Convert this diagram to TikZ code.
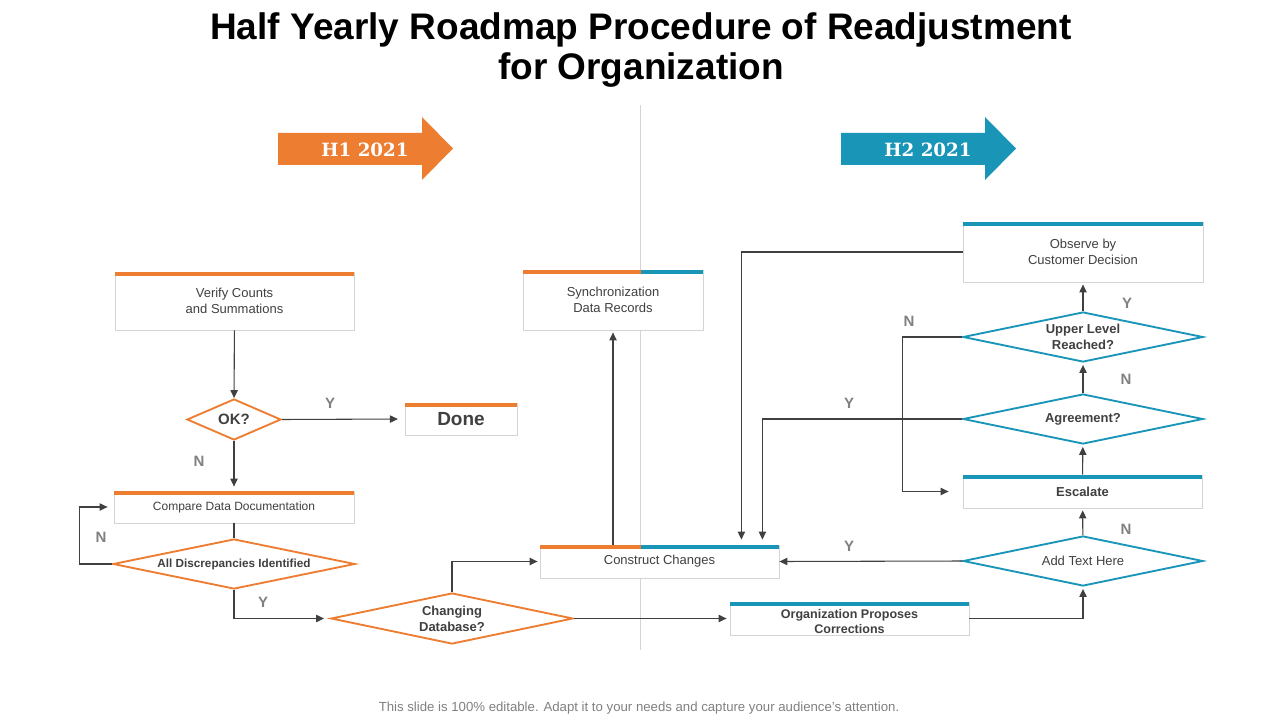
\documentclass[tikz,border=0pt]{standalone}
\usepackage{fontspec}
\setmainfont{Liberation Sans}
\newfontfamily\yearfont{DejaVu Serif}
\usetikzlibrary{shapes.geometric,arrows.meta,calc}

\definecolor{hone}{HTML}{ED7D31}
\definecolor{htwo}{HTML}{1995B7}
\definecolor{ink}{HTML}{404040}
\definecolor{frame}{HTML}{D4D4D4}
\definecolor{yncol}{HTML}{808080}

\tikzset{
  stepbox/.style={draw=frame, fill=white, line width=0.6pt, text=ink, align=center,
    inner sep=0pt, font=\fontsize{9.75pt}{12pt}\selectfont},
  decision/.style={diamond, draw, line width=1.4pt, fill=white, text=ink, align=center,
    inner sep=0pt, aspect=4.8, font=\bfseries\fontsize{9.75pt}{12pt}\selectfont},
  conn/.style={draw=ink, line width=0.8pt, -{Triangle[length=6pt,width=5.5pt]}},
  yn/.style={text=yncol, font=\bfseries\fontsize{11.25pt}{13pt}\selectfont},
}

\begin{document}
\begin{tikzpicture}[x=0.75pt, y=-0.75pt]
    % Page frame
    \useasboundingbox (0,0) rectangle (1280,720);

    % Title and footer
    \node (title) at (641,50.5) [align=center, text=black,
        font=\bfseries\fontsize{27.75pt}{30pt}\selectfont]
        {Half Yearly Roadmap Procedure of Readjustment\\for Organization};
    \node (footer) at (639,708) [text=yncol, font=\fontsize{9.9pt}{11pt}\selectfont]
        {This slide is 100\% editable. Adapt it to your needs and capture your audience's attention.};

    % Divider between the two halves
    \coordinate (mid) at (640.5,0);
    \draw[frame, line width=0.6pt] (640.5,105) -- (640.5,650);

    % Half year arrows
    \fill[hone] (278,133) -- (422,133) -- (422,117) -- (453,148.5) -- (422,180) -- (422,165) -- (278,165) -- cycle;
    \node (hfirst) at (365,150) [text=white, font=\yearfont\bfseries\fontsize{13.7pt}{15pt}\selectfont] {H1 2021};
    \fill[htwo] (841,133) -- (985,133) -- (985,117) -- (1016,148.5) -- (985,180) -- (985,165) -- (841,165) -- cycle;
    \node (hsecond) at (928,150) [text=white, font=\yearfont\bfseries\fontsize{13.7pt}{15pt}\selectfont] {H2 2021};

    % First half steps
    \node[stepbox, minimum width=179.25pt, minimum height=43.5pt] (verify) at (234.5,301) {Verify Counts\\and Summations};
    \node[decision, draw=hone, aspect=2.3, minimum width=70.5pt, minimum height=30.75pt,
        font=\bfseries\fontsize{11.25pt}{13pt}\selectfont] (ok) at (234,419.5) {OK?};
    \node[stepbox, minimum width=84pt, minimum height=24pt,
        font=\bfseries\fontsize{14.25pt}{16pt}\selectfont] (done) at (461,419) {Done};
    \node[stepbox, minimum width=180pt, minimum height=24pt,
        font=\fontsize{9pt}{11pt}\selectfont] (compare) at (234,507) {Compare Data Documentation};
    \node[decision, draw=hone, minimum width=181.5pt, minimum height=37.5pt,
        font=\bfseries\fontsize{8.8pt}{10pt}\selectfont] (alldisc) at (234,564) {All Discrepancies Identified};
    \node[decision, draw=hone, minimum width=181.5pt, minimum height=38.25pt] (changing) at (452,618.5) {Changing\\Database?};

    % Shared steps
    \node[stepbox, minimum width=135pt, minimum height=45pt] (sync) at (613,300) {Synchronization\\Data Records};
    \node[stepbox, minimum width=179.25pt, minimum height=24.75pt] (construct) at (659.5,561.5) {Construct Changes};

    % Second half steps
    \node[stepbox, minimum width=179.25pt, minimum height=24.75pt] (org) at (849.5,618.5) {};
    \node[text=ink, align=center, inner sep=0pt, font=\bfseries\fontsize{9.4pt}{11.25pt}\selectfont]
        (orgtext) at (849.5,622) {Organization Proposes\\Corrections};
    \node[stepbox, minimum width=180pt, minimum height=45pt] (observe) at (1083,252) {Observe by\\Customer Decision};
    \node[decision, draw=htwo, minimum width=180pt, minimum height=37.5pt] (upper) at (1083,337) {Upper Level\\Reached?};
    \node[decision, draw=htwo, minimum width=180pt, minimum height=37.5pt] (agree) at (1083,419) {Agreement?};
    \node[stepbox, minimum width=179.25pt, minimum height=24.75pt,
        font=\bfseries\fontsize{9.75pt}{12pt}\selectfont] (escalate) at (1082.5,491.5) {Escalate};
    \node[decision, draw=htwo, minimum width=180pt, minimum height=37.5pt,
        font=\fontsize{9.75pt}{12pt}\selectfont] (addtext) at (1083,561) {Add Text Here};

    % Coloured top bars
    \fill[hone] (verify.north west) rectangle ($(verify.north east)+(0,4)$);
    \fill[hone] (done.north west) rectangle ($(done.north east)+(0,4)$);
    \fill[hone] (compare.north west) rectangle ($(compare.north east)+(0,4)$);
    \fill[hone] (sync.north west) rectangle ($(sync.north -| mid)+(0,4)$);
    \fill[htwo] (sync.north -| mid) rectangle ($(sync.north east)+(0,4)$);
    \fill[hone] (construct.north west) rectangle ($(construct.north -| mid)+(0,4)$);
    \fill[htwo] (construct.north -| mid) rectangle ($(construct.north east)+(0,4)$);
    \fill[htwo] (org.north west) rectangle ($(org.north east)+(0,4)$);
    \fill[htwo] (observe.north west) rectangle ($(observe.north east)+(0,4)$);
    \fill[htwo] (escalate.north west) rectangle ($(escalate.north east)+(0,4)$);

    % Connectors, first half
    \draw[conn] (verify) -- (ok);
    \draw[conn, shorten >=5pt] (ok.east) -- (done.west);
    \draw[conn, shorten >=3pt] (ok) -- (compare);
    \draw[draw=ink, line width=0.8pt] (compare) -- (alldisc);
    \draw[conn, shorten >=4.5pt] (alldisc.west) -- ++(-33,0) |- (compare.west);
    \draw[conn, shorten >=4.5pt] (alldisc.south) |- (changing.west);
    \draw[conn, shorten >=1.5pt] (changing.north) |- (construct.west);
    \draw[conn, shorten >=2.25pt] (changing.east) -- (org.west);
    \draw[conn, shorten >=1.5pt] (construct.north -| sync.south) -- (sync.south);

    % Connectors, second half
    \draw[conn, shorten >=3.75pt] (observe.west) -| ($(construct.north east)+(-38,0)$);
    \draw[conn, shorten >=3.75pt] (agree.west) -| ($(construct.north east)+(-17,0)$);
    \draw[conn] (addtext.west) -- (construct.east);
    \draw[conn, shorten >=1.5pt] (org.east) -| (addtext.south);
    \draw[conn, shorten >=1.5pt] (addtext) -- (escalate);
    \draw[conn, shorten >=1.5pt] (escalate) -- (agree);
    \draw[conn, shorten >=1.5pt] (agree) -- (upper);
    \draw[conn, shorten >=1.5pt] (upper) -- (observe);
    \draw[conn, shorten >=10.5pt] (upper.west) -- ++(-60,0) |- (escalate.west);

    % Yes / no labels
    \node[yn] (yok) at (330,403) {Y};
    \node[yn] (nok) at (199,461) {N};
    \node[yn] (ndisc) at (101,537) {N};
    \node[yn] (ydisc) at (263,602) {Y};
    \node[yn] (yagree) at (849,403) {Y};
    \node[yn] (yadd) at (849,546) {Y};
    \node[yn] (nadd) at (1126,529) {N};
    \node[yn] (nagree) at (1126,379) {N};
    \node[yn] (yupper) at (1127,303) {Y};
    \node[yn] (nupper) at (909,321) {N};
\end{tikzpicture}
\end{document}
